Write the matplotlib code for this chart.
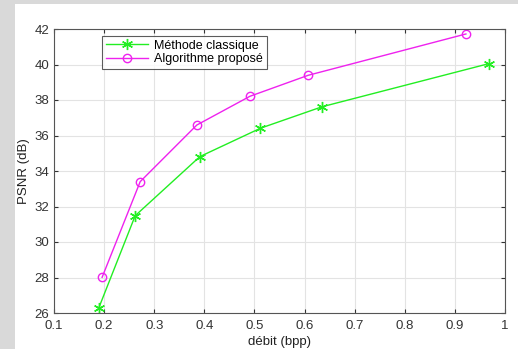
import matplotlib
matplotlib.use("Agg")
import matplotlib.pyplot as plt
from matplotlib.patches import Rectangle

plt.rcParams["font.family"] = ["Liberation Sans", "DejaVu Sans"]

# data
debit_classique = [0.189, 0.262, 0.391, 0.512, 0.635, 0.968]
psnr_classique = [26.26, 31.48, 34.81, 36.41, 37.62, 40.05]
debit_propose = [0.196, 0.272, 0.385, 0.491, 0.607, 0.922]
psnr_propose = [28.01, 33.40, 36.59, 38.21, 39.39, 41.72]

xticks = [0.1, 0.2, 0.3, 0.4, 0.5, 0.6, 0.7, 0.8, 0.9, 1.0]
xticklabels = ["0.1", "0.2", "0.3", "0.4", "0.5", "0.6", "0.7", "0.8", "0.9", "1"]
yticks = [26, 28, 30, 32, 34, 36, 38, 40, 42]

fig = plt.figure(figsize=(5.18, 3.49), dpi=100)
fig.patch.set_facecolor("white")
# gray strips on the left and top (window border)
fig.patches.append(Rectangle((0, 0), 15 / 518, 1, transform=fig.transFigure,
                             facecolor="#d9d9d9", edgecolor="none", zorder=-10))
fig.patches.append(Rectangle((0, 1 - 4 / 349), 1, 4 / 349, transform=fig.transFigure,
                             facecolor="#d9d9d9", edgecolor="none", zorder=-10))

ax = fig.add_axes([54 / 518, 1 - 313 / 349, 451 / 518, 284 / 349])
ax.set_facecolor("white")

ax.plot(debit_classique, psnr_classique, color="#22ee22", marker=(6, 2, 0),
        markersize=8, markeredgewidth=1, linewidth=1, label="Méthode classique")
ax.plot(debit_propose, psnr_propose, color="#ee22ee", marker="o",
        markersize=6, markerfacecolor="none", linewidth=1,
        label="Algorithme proposé")

ax.set_xlim(0.1, 1.0)
ax.set_ylim(26, 42)
ax.set_xticks(xticks)
ax.set_xticklabels(xticklabels)
ax.set_yticks(yticks)
ax.grid(True, color="#e3e3e3", linewidth=0.8)
ax.set_axisbelow(True)
ax.tick_params(direction="in", top=True, right=True, labelsize=9.5,
               colors="#333333", length=3)
ax.tick_params(axis="x", pad=5)
for s in ax.spines.values():
    s.set_color("#555555")
    s.set_linewidth(0.8)

ax.set_xlabel("débit (bpp)", fontsize=9.5, color="#222222", labelpad=3)
ax.set_ylabel("PSNR (dB)", fontsize=9.5, color="#222222", labelpad=3.5)

leg = ax.legend(loc="upper left", bbox_to_anchor=(0.106, 0.975),
                fontsize=9, frameon=True, fancybox=False,
                borderpad=0.3, labelspacing=0.1, handlelength=3.4,
                handletextpad=0.5, borderaxespad=0)
leg.get_frame().set_edgecolor("#333333")
leg.get_frame().set_linewidth(0.8)

fig.savefig("out.png", dpi=100, facecolor=fig.get_facecolor())
